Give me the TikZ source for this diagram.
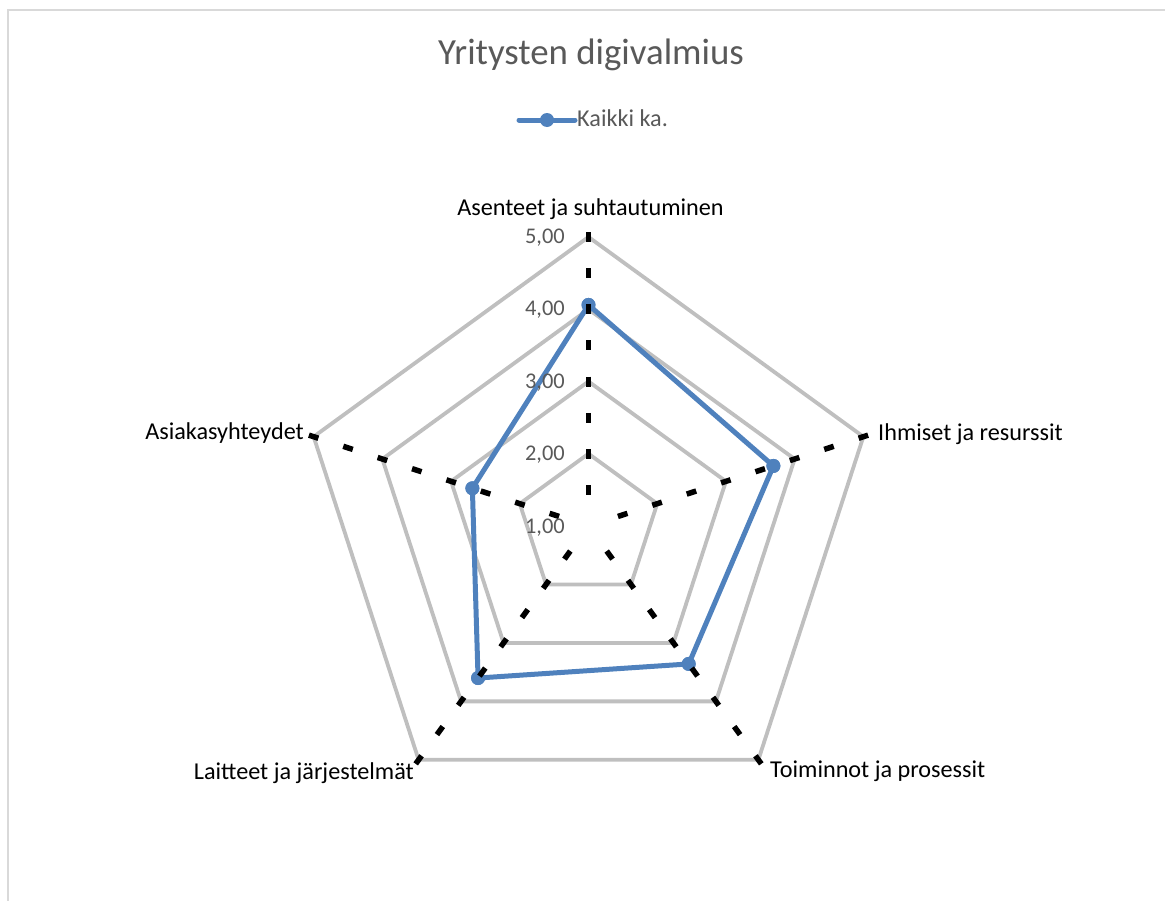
\documentclass[tikz,border=0pt]{standalone}
\usepackage{fontspec}
\setmainfont{Carlito}
\usetikzlibrary{calc}
\definecolor{gridgray}{HTML}{BFBFBF}
\definecolor{seriesblue}{HTML}{4F81BD}
\definecolor{txtgray}{HTML}{595959}
\definecolor{framegray}{HTML}{D9D9D9}
\begin{document}
\begin{tikzpicture}[x=1bp,y=1bp,
  gridline/.style={draw=gridgray,line width=3.8bp,line join=miter},
  axisdash/.style={draw=black,line width=5.5bp,dash pattern=on 10bp off 26.15bp},
  serline/.style={draw=seriesblue,line width=5bp,line join=round},
  marker/.style={circle,fill=seriesblue,minimum size=14bp,inner sep=0pt},
  catlabel/.style={inner sep=0pt,font=\fontsize{24.3}{28}\selectfont,text=black},
  vallabel/.style={inner sep=0pt,anchor=mid east,font=\fontsize{22.5}{26}\selectfont,text=txtgray},
  titlelabel/.style={inner sep=0pt,font=\fontsize{37}{42}\selectfont,text=txtgray},
  leglabel/.style={inner sep=0pt,anchor=mid west,font=\fontsize{24.3}{28}\selectfont,text=txtgray}]
\useasboundingbox (0,0) rectangle (1165,-901);
\draw[framegray,line width=2bp] (8,-901) -- (8,-10) -- (1165,-10);

\coordinate (C) at (588.5,-526);
% grid pentagons (2,00 ... 5,00)
\foreach \r in {1,2,3,4}{
  \draw[gridline,shift={(C)}] (90:\r*72.25) -- (18:\r*72.25) -- (-54:\r*72.25) -- (-126:\r*72.25) -- (162:\r*72.25) -- cycle;
}
% data series
\path[shift={(C)}]
  (90:221.1)  node[marker] (d1) {}
  (18:194.4)  node[marker] (d2) {}
  (-54:170.5) node[marker] (d3) {}
  (-126:187.9) node[marker] (d4) {}
  (162:122.1) node[marker] (d5) {};
\draw[serline] (d1.center) -- (d2.center) -- (d3.center) -- (d4.center) -- (d5.center) -- cycle;
\path[shift={(C)}]
  (90:221.1)  node[marker] {}
  (18:194.4)  node[marker] {}
  (-54:170.5) node[marker] {}
  (-126:187.9) node[marker] {}
  (162:122.1) node[marker] {};
% axes
\foreach \a/\n in {90/1,18/2,-54/3,-126/4,162/5}{
  \coordinate (o\n) at ($(C)+(\a:294)$);
  \coordinate (i\n) at ($(C)+(\a:20)$);
  \draw[axisdash] (o\n) -- (i\n);
}
% value labels
\node[vallabel] (v5) at (565,-241) {5,00};
\node[vallabel] (v4) at (565,-313) {4,00};
\node[vallabel] (v3) at (565,-386) {3,00};
\node[vallabel] (v2) at (565,-458) {2,00};
\node[vallabel] (v1) at (565,-531) {1,00};
% category labels
\node[catlabel,anchor=mid] (c1) at (590.5,-213) {Asenteet ja suhtautuminen};
\node[catlabel,anchor=mid west] (c2) at (878,-438) {Ihmiset ja resurssit};
\node[catlabel,anchor=mid west] (c3) at (770,-775) {Toiminnot ja prosessit};
\node[catlabel,anchor=mid east] (c4) at (414,-777) {Laitteet ja järjestelmät};
\node[catlabel,anchor=mid east] (c5) at (304,-437) {Asiakasyhteydet};
% title
\node[titlelabel,anchor=mid] (title) at (591,-62) {Yritysten digivalmius};
% legend
\coordinate (l1) at (519,-120);
\coordinate (l2) at (575,-120);
\draw[serline,line cap=round] (l1) -- (l2);
\node[marker] (lm) at (547,-120) {};
\node[leglabel] (lt) at (577,-124) {Kaikki ka.};
\end{tikzpicture}
\end{document}
